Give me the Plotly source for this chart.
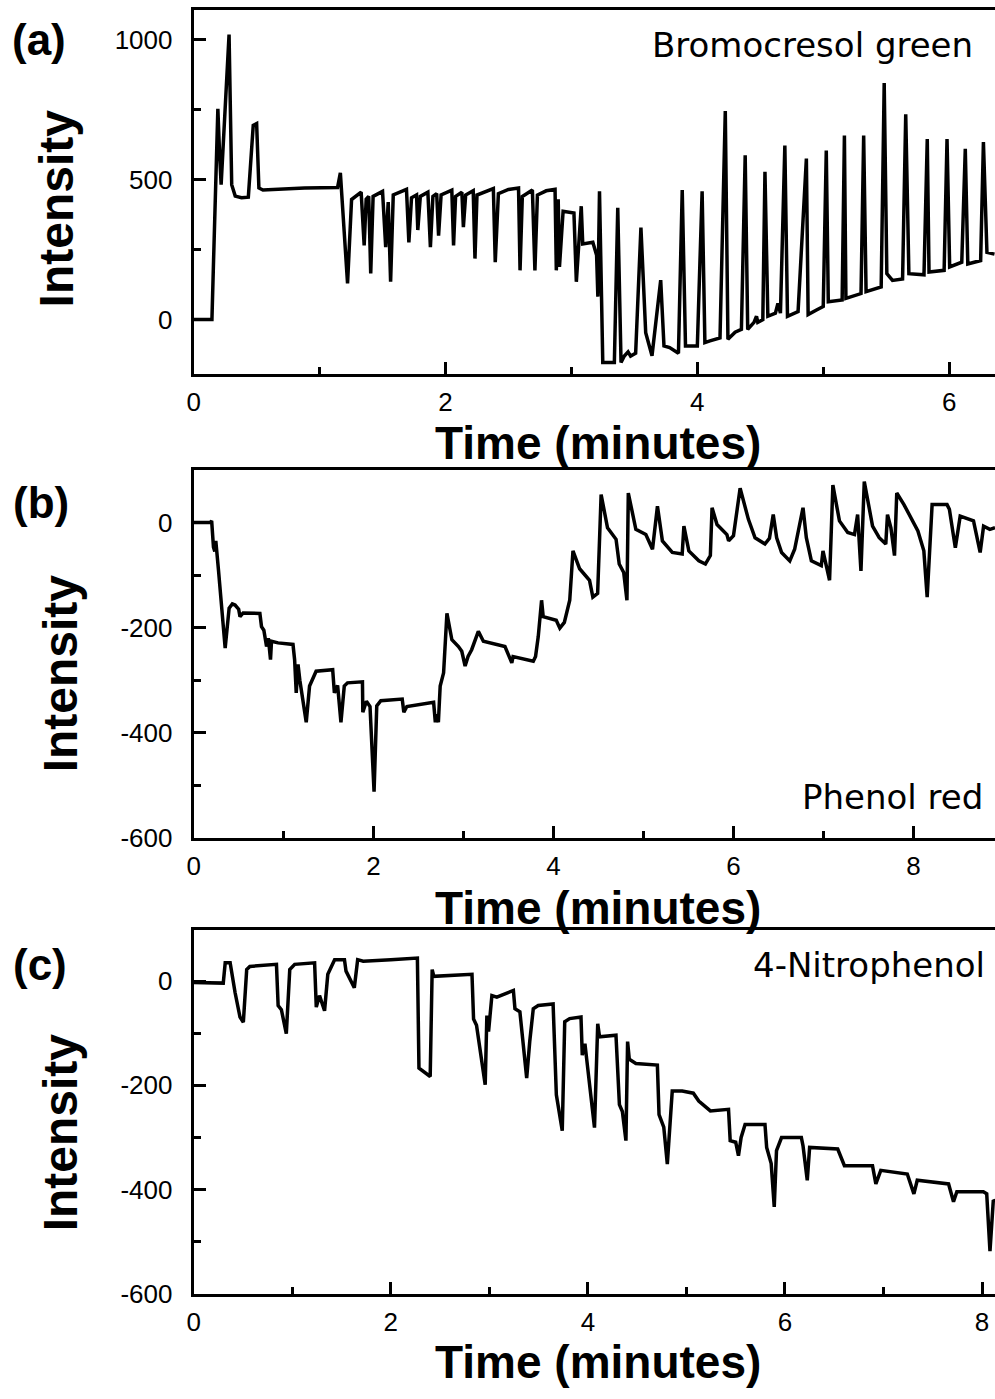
import plotly.graph_objects as go

# ---------------- data ----------------
# (a) Bromocresol green
a_time = [0, 0.145, 0.158, 0.176, 0.192, 0.205, 0.218, 0.281, 0.302, 0.33, 0.38, 0.434, 0.46, 0.473, 0.50, 0.518,
          0.55, 0.618, 0.88, 1.143, 1.165, 1.222, 1.254, 1.33, 1.354, 1.37, 1.39, 1.406, 1.425, 1.50, 1.525, 1.545,
          1.564, 1.585, 1.69, 1.709, 1.73, 1.77, 1.78, 1.80, 1.86, 1.88, 1.90, 1.93, 1.945, 1.965, 2.05, 2.064, 2.08,
          2.13, 2.142, 2.16, 2.22, 2.234, 2.25, 2.38, 2.395, 2.42, 2.50, 2.58, 2.592, 2.61, 2.69, 2.71, 2.73, 2.80,
          2.87, 2.88, 2.895, 2.905, 2.934, 3.02, 3.039, 3.078, 3.09, 3.17, 3.20, 3.21, 3.223, 3.249, 3.341, 3.368,
          3.394, 3.42, 3.45, 3.47, 3.51, 3.552, 3.59, 3.64, 3.709, 3.735, 3.78, 3.85, 3.88, 3.906, 4.00, 4.038, 4.06,
          4.10, 4.18, 4.222, 4.243, 4.30, 4.35, 4.38, 4.40, 4.45, 4.47, 4.48, 4.52, 4.537, 4.56, 4.62, 4.64, 4.66,
          4.695, 4.716, 4.80, 4.866, 4.88, 4.95, 5.00, 5.024, 5.04, 5.15, 5.168, 5.18, 5.30, 5.321, 5.34, 5.46,
          5.484, 5.505, 5.55, 5.63, 5.655, 5.68, 5.80, 5.826, 5.84, 5.96, 5.983, 6.004, 6.10, 6.128, 6.148, 6.25,
          6.272, 6.30, 6.36]
a_int = [0, 0, 212, 459, 753, 600, 482, 1018, 482, 441, 435, 437, 600, 694, 700, 470,
         463, 465, 470, 472, 524, 129, 429, 455, 265, 430, 440, 165, 440, 458, 259, 420,
         135, 445, 465, 276, 435, 445, 320, 440, 455, 259, 440, 450, 300, 445, 462, 265, 440,
         455, 330, 445, 460, 218, 445, 468, 205, 450, 465, 470, 176, 440, 463, 176, 445, 460,
         465, 176, 430, 188, 387, 381, 135, 405, 270, 276, 230, 82, 458, -153, -153, 399,
         -153, -130, -115, -130, -120, 329, -47, -129, 141, -94, -100, -120, 463, -94, -94, 458, -82,
         -76, -65, 745, -70, -45, -35, 587, -35, -10, 12, -10, 0, 528, 12, 23, 58, 23,
         622, 12, 29, 575, 18, 35, 47, 604, 64, 70, 657, 76, 93, 657, 100, 117,
         845, 164, 140, 145, 733, 164, 160, 645, 170, 176, 645, 188, 205, 610, 199, 211,
         634, 240, 234]

# (b) Phenol red
b_time = [0, 0.184, 0.20, 0.22, 0.235, 0.246, 0.276, 0.35, 0.394, 0.43, 0.46, 0.50, 0.515, 0.55, 0.736, 0.754,
          0.78, 0.81, 0.83, 0.854, 0.865, 0.938, 1.104, 1.122, 1.14, 1.16, 1.18, 1.251, 1.288, 1.361, 1.545, 1.564,
          1.60, 1.637, 1.674, 1.71, 1.876, 1.88, 1.92, 1.96, 2.005, 2.035, 2.08, 2.318, 2.336, 2.37, 2.667, 2.686,
          2.70, 2.72, 2.74, 2.778, 2.815, 2.87, 2.943, 2.98, 3.017, 3.05, 3.09, 3.164, 3.22, 3.33, 3.46, 3.536,
          3.55, 3.775, 3.80, 3.83, 3.867, 3.885, 4.03, 4.07, 4.12, 4.18, 4.216, 4.29, 4.40, 4.437, 4.49, 4.529,
          4.60, 4.695, 4.73, 4.78, 4.816, 4.831, 4.915, 5.026, 5.10, 5.155, 5.21, 5.32, 5.43, 5.449, 5.504, 5.615,
          5.688, 5.743, 5.762, 5.817, 5.927, 5.946, 6.0, 6.074, 6.166, 6.24, 6.35, 6.40, 6.442, 6.48, 6.535, 6.626,
          6.68, 6.773, 6.81, 6.866, 6.976, 6.995, 7.02, 7.068, 7.105, 7.178, 7.27, 7.345, 7.38, 7.417, 7.454,
          7.546, 7.62, 7.693, 7.712, 7.75, 7.79, 7.815, 7.895, 8.006, 8.05, 8.116, 8.153, 8.208, 8.374, 8.40,
          8.466, 8.52, 8.668, 8.742, 8.78, 8.85, 8.907]
b_int = [0, 0, 3, -47, -55, -35, -91, -239, -163, -155, -157, -165, -179, -172, -173, -198,
         -205, -236, -220, -261, -226, -229, -232, -261, -324, -270, -300, -380, -311, -283, -280, -324,
         -310, -380, -311, -305, -303, -361, -340, -350, -512, -349, -339, -336, -361, -350, -342, -380,
         -365, -380, -311, -286, -173, -223, -236, -245, -273, -255, -242, -207, -226, -230, -236, -267,
         -255, -264, -255, -217, -148, -179, -186, -201, -190, -148, -54, -88, -110, -142, -135, 53,
         -10, -32, -79, -95, -148, 56, -13, -23, -51, 31, -35, -57, -60, -7, -54, -73,
         -79, -63, 28, -4, -23, -35, -25, 65, 6, -29, -41, -30, 15, -29, -57, -73,
         -51, 28, -29, -73, -82, -54, -75, -110, 71, 3, -19, -23, 15, -92, 78,
         -7, -29, -41, 15, -10, -63, 56, 34, -4, -16, -54, -142, 34, 34, 25,
         -48, 12, 3, -57, -7, -13, -10]

# (c) 4-Nitrophenol
c_time = [0, 0.30, 0.32, 0.37, 0.42, 0.47, 0.504, 0.538, 0.57, 0.84, 0.857, 0.89, 0.94, 0.975, 1.025, 1.227,
          1.244, 1.277, 1.328, 1.361, 1.43, 1.53, 1.546, 1.63, 1.664, 1.72, 2.0, 2.27, 2.286, 2.35, 2.40, 2.42,
          2.437, 2.824, 2.84, 2.87, 2.958, 2.975, 2.992, 3.026, 3.076, 3.244, 3.26, 3.31, 3.362, 3.379, 3.41,
          3.446, 3.496, 3.647, 3.68, 3.74, 3.765, 3.815, 3.93, 3.943, 3.97, 4.067, 4.10, 4.118, 4.285, 4.32,
          4.35, 4.386, 4.403, 4.42, 4.487, 4.705, 4.722, 4.77, 4.806, 4.856, 4.957, 5.07, 5.125, 5.243, 5.427,
          5.444, 5.50, 5.528, 5.555, 5.595, 5.797, 5.814, 5.86, 5.891, 5.914, 5.965, 6.166, 6.183, 6.226, 6.25,
          6.535, 6.586, 6.603, 6.888, 6.922, 6.972, 7.241, 7.308, 7.342, 7.66, 7.71, 7.744, 8.013, 8.047, 8.08,
          8.114, 8.131]
c_int = [-3, -4, 35, 35, -22, -69, -79, 22, 28, 32, -47, -55, -101, 22, 32, 35,
         -50, -28, -57, 13, 41, 41, 19, -13, 41, 38, 41, 44, -167, -177, -183, 22,
         9, 13, -73, -85, -199, -66, -97, -28, -31, -18, -53, -59, -161, -186, -116,
         -53, -47, -44, -218, -287, -78, -72, -69, -142, -120, -281, -82, -107, -104, -237,
         -250, -306, -116, -150, -158, -161, -256, -280, -351, -211, -211, -215, -230, -249, -246,
         -306, -309, -335, -300, -275, -275, -319, -350, -433, -325, -300, -300, -316, -382, -319,
         -322, -344, -354, -354, -389, -363, -370, -408, -382, -389, -423, -404, -404, -408, -518,
         -420, -423]

panel_letters = ["(a)", "(b)", "(c)"]
dye_names = ["Bromocresol green", "Phenol red", "4-Nitrophenol"]
x_title = "Time (minutes)"
y_title = "Intensity"
x_ticks = [0, 2, 4, 6, 8]
y_ticks_a = [0, 500, 1000]
y_ticks_bc = [-600, -400, -200, 0]

# ---------------- figure ----------------
W, H = 995, 1399
FONT = "Liberation Sans, Arial, sans-serif"


def py(p):  # pixel row -> paper fraction
    return 1 - p / H


def labels(vals):
    return [str(v) for v in vals]  # plain hyphen-minus as in the original


panels = [
    dict(t=a_time, v=a_int, top=10, bot=378, xr=[0, 6.364], yr=[-194, 1106], ytv=y_ticks_a, ymin=250),
    dict(t=b_time, v=b_int, top=475, bot=847, xr=[0, 8.907], yr=[-600, 100], ytv=y_ticks_bc, ymin=100),
    dict(t=c_time, v=c_int, top=940, bot=1308, xr=[0, 8.131], yr=[-600, 98], ytv=y_ticks_bc, ymin=100),
]

fig = go.Figure()
layout = dict(width=W, height=H, margin=dict(l=0, r=0, t=0, b=0),
              paper_bgcolor="white", plot_bgcolor="white", showlegend=False,
              font=dict(family=FONT, color="black"))
annotations = []
x_left = 188 / W

for i, p in enumerate(panels):
    n = "" if i == 0 else str(i + 1)
    fig.add_trace(go.Scatter(x=p["t"], y=p["v"], mode="lines",
                             line=dict(color="black", width=3.5),
                             xaxis="x" + n, yaxis="y" + n, hoverinfo="skip"))
    axcommon = dict(showline=True, linecolor="black", linewidth=3, ticks="inside",
                    ticklen=12, tickwidth=3, tickcolor="black", showgrid=False, zeroline=False,
                    tickfont=dict(family=FONT, size=26, color="black"))
    layout["xaxis" + n] = dict(axcommon, domain=[x_left, 1], range=p["xr"], anchor="y" + n,
                               mirror=True, tickvals=x_ticks, ticktext=labels(x_ticks),
                               ticklabelstandoff=3,
                               minor=dict(ticks="inside", ticklen=7, tickwidth=3, tickcolor="black",
                                          tickvals=[1, 3, 5, 7]))
    layout["yaxis" + n] = dict(axcommon, domain=[py(p["bot"]), py(p["top"])], range=p["yr"],
                               anchor="x" + n, tickvals=p["ytv"], ticktext=labels(p["ytv"]),
                               ticklabelstandoff=13,
                               minor=dict(ticks="inside", ticklen=7, tickwidth=3, tickcolor="black",
                                          dtick=p["ymin"], tick0=0))

letters_pos = [(32, 40), (34, 508), (33, 975)]
intensity_pos = [(50, 211), (54, 681), (54, 1145)]
time_y = [448, 918, 1377]
dye_pos = [(975, 45), (985, 806), (987, 975)]

for i in range(3):
    lx, ly = letters_pos[i]
    annotations.append(dict(text="<b>%s</b>" % panel_letters[i], x=lx / W, y=py(ly), xref="paper", yref="paper",
                            xanchor="center", yanchor="middle", showarrow=False,
                            font=dict(family=FONT, size=44, color="black")))
    ix, iy = intensity_pos[i]
    annotations.append(dict(text="<b>%s</b>" % y_title, x=ix / W, y=py(iy), xref="paper",
                            yref="paper", xanchor="center", yanchor="middle", textangle=-90,
                            showarrow=False, font=dict(family=FONT, size=48, color="black")))
    annotations.append(dict(text="<b>%s</b>" % x_title, x=595 / W, y=py(time_y[i]), xref="paper",
                            yref="paper", xanchor="center", yanchor="middle", showarrow=False,
                            font=dict(family=FONT, size=46, color="black")))
    dx, dy = dye_pos[i]
    annotations.append(dict(text=dye_names[i], x=dx / W, y=py(dy), xref="paper", yref="paper",
                            xanchor="right", yanchor="middle", showarrow=False,
                            font=dict(family="DejaVu Sans", size=34, color="black")))

layout["annotations"] = annotations
fig.update_layout(**layout)
fig.write_html("out.html")
